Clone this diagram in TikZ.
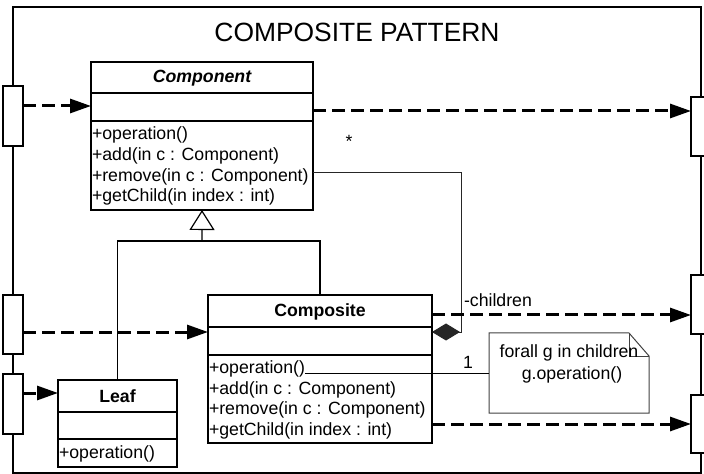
\documentclass[tikz,border=0pt]{standalone}
\usepackage{fontspec}
\setmainfont{Liberation Sans}
\usetikzlibrary{arrows.meta}

\begin{document}
\begin{tikzpicture}[x=1bp,y=-1bp,
  every node/.style={inner sep=0pt, outer sep=0pt},
  txt/.style={font=\fontsize{17.7bp}{20.7bp}\selectfont, anchor=base west},
  frameline/.style={line width=1.3bp},
  classbox/.style={draw, line width=1.3bp, fill=white, rectangle, anchor=north west},
  divider/.style={line width=1.3bp},
  port/.style={draw, line width=1.3bp, fill=white, rectangle, anchor=north west, minimum width=20bp},
  flow/.style={line width=3bp, dash pattern=on 13bp off 6bp,
    -{Triangle[length=21bp,width=14bp]}},
  general/.style={line width=1.2bp},
  assoc/.style={line width=1bp, black!85},
  notebox/.style={line width=1bp, black!75}
]
\useasboundingbox (0,0) rectangle (704,474);

% outer frame
\draw[frameline] (13,7) rectangle (701,473);
\node[font=\fontsize{26.4bp}{30bp}\selectfont, anchor=base] (title) at (357,42) {COMPOSITE PATTERN};

% ports on the frame
\node[port, minimum height=60bp] (pa) at (3,86) {};
\node[port, minimum height=59bp] (pb) at (3,295) {};
\node[port, minimum height=60bp] (pc) at (3,374) {};
\node[port, minimum height=59bp] (pd) at (691,97) {};
\node[port, minimum height=59bp] (pe) at (691,275) {};
\node[port, minimum height=58bp] (pf) at (691,395) {};

% Component class
\node[classbox, minimum width=222bp, minimum height=148bp] (component) at (91,62) {};
\draw[divider] ([yshift=-31bp]component.north west) -- ([yshift=-31bp]component.north east);
\draw[divider] ([yshift=-59bp]component.north west) -- ([yshift=-59bp]component.north east);
\node[txt, anchor=base, font=\fontsize{17.7bp}{20.7bp}\selectfont\bfseries\itshape] (cname) at (202,83) {Component};
\node[txt] (cop1) at (92,140) {+operation()};
\node[txt] (cop2) at (92,161) {+add(in c : Component)};
\node[txt] (cop3) at (92,181.5) {+remove(in c : Component)};
\node[txt] (cop4) at (92,202) {+getChild(in index : int)};

% Composite class
\node[classbox, minimum width=224bp, minimum height=148bp] (composite) at (208,295) {};
\draw[divider] ([yshift=-32bp]composite.north west) -- ([yshift=-32bp]composite.north east);
\draw[divider] ([yshift=-60bp]composite.north west) -- ([yshift=-60bp]composite.north east);
\node[txt, anchor=base, font=\fontsize{17.7bp}{20.7bp}\selectfont\bfseries] (kname) at (320,316.5) {Composite};
\node[txt] (kop1) at (209,373) {+operation()};
\node[txt] (kop2) at (209,394) {+add(in c : Component)};
\node[txt] (kop3) at (209,414.5) {+remove(in c : Component)};
\node[txt] (kop4) at (209,435) {+getChild(in index : int)};

% Leaf class
\node[classbox, minimum width=119bp, minimum height=87bp] (leaf) at (58,380) {};
\draw[divider] ([yshift=-32bp]leaf.north west) -- ([yshift=-32bp]leaf.north east);
\draw[divider] ([yshift=-59bp]leaf.north west) -- ([yshift=-59bp]leaf.north east);
\node[txt, anchor=base, font=\fontsize{17.7bp}{20.7bp}\selectfont\bfseries] (lname) at (117.5,402) {Leaf};
\node[txt] (lop1) at (59,458) {+operation()};

% generalization
\coordinate (gj) at (202,241);
\draw[general] (leaf.north) |- (gj) -| (composite.north);
\draw[general, -{Triangle[open, length=20bp, width=25bp]}] (gj) -- (component.south);

% children association with composition diamond
\coordinate (ka) at (461,173);
\coordinate (kb) at (461,332);
\draw[assoc, {Diamond[length=28bp,width=17bp]}-] (kb -| composite.east) -- (kb) -- (ka) -- (ka -| component.east);
\node[txt, anchor=base] (mstar) at (349,148) {*};
\node[txt] (mchild) at (464,307) {-children};
\node[txt, anchor=base] (mone) at (468,368) {1};

% note
\node[minimum width=160bp, minimum height=80bp] (note) at (569,373) {};
\draw[notebox] (note.north west) -- ([xshift=-20bp]note.north east) -- ([yshift=-23bp]note.north east) -- (note.south east) -- (note.south west) -- cycle;
\draw[notebox] ([xshift=-20bp]note.north east) -- ([xshift=-20bp,yshift=-23bp]note.north east) -- ([yshift=-23bp]note.north east);
\node[txt, anchor=base] (nt1) at (569,357.5) {forall g in children};
\node[txt, anchor=base] (nt2) at (572,379) {g.operation()};
\draw[line width=1bp] (kop1.base east) -- (note.west);

% flows through the ports
\coordinate (fa) at (23,106);
\coordinate (fb) at (23,332);
\coordinate (fc) at (23,393);
\coordinate (fd) at (691,111);
\coordinate (fe) at (691,315);
\coordinate (ff) at (691,424);
\draw[flow] (fa) -- (fa -| component.west);
\draw[flow] (fb) -- (fb -| composite.west);
\draw[flow] (fc) -- (fc -| leaf.west);
\draw[flow] (fd -| component.east) -- (fd);
\draw[flow] (fe -| composite.east) -- (fe);
\draw[flow] (ff -| composite.east) -- (ff);
\end{tikzpicture}
\end{document}
